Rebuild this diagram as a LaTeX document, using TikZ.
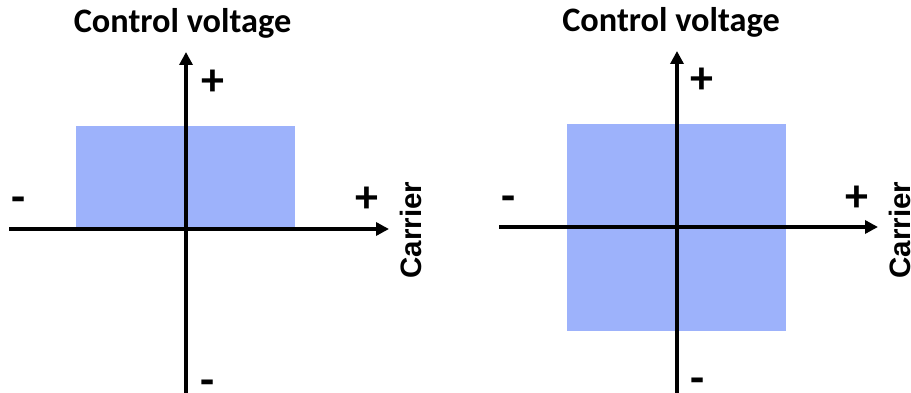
\documentclass[tikz,border=0pt]{standalone}
\usepackage{fontspec}
\setmainfont{Carlito}
\newfontfamily\carrierfont{Liberation Sans}
\usetikzlibrary{arrows.meta}
\definecolor{boxblue}{RGB}{157,178,251}
\tikzset{
  axis/.style={line width=4.3pt,-{Triangle[length=13pt,width=13pt]}},
  title/.style={font=\fontsize{34.3}{40}\selectfont\bfseries,inner sep=0pt},
  sign/.style={font=\fontsize{46}{50}\selectfont\bfseries,inner sep=0pt,text height=0.45em,text depth=0pt},
  carrier/.style={font=\carrierfont\fontsize{29.5}{34}\selectfont\bfseries,rotate=90,inner sep=0pt},
}
\begin{document}
\begin{tikzpicture}[x=1pt,y=-1pt]
\useasboundingbox (0,0) rectangle (911,393);
% left diagram
\fill[boxblue] (76,126) rectangle (295,229);
\coordinate (LxS) at (9,229);
\coordinate (LxE) at (389,229);
\coordinate (LyS) at (186,393);
\coordinate (LyE) at (186,52);
\draw[axis] (LxS) -- (LxE);
\draw[axis] (LyS) -- (LyE);
\node[title] (Lt) at (182.5,23) {Control voltage};
\node[sign] (Lp1) at (212.5,93) {+};
\node[sign] (Lm1) at (208,393.5) {-};
\node[sign] (Lm2) at (19,210.5) {-};
\node[sign] (Lp2) at (367,210.5) {+};
\node[carrier] (Lc) at (411,230) {Carrier};
% right diagram
\fill[boxblue] (567,124) rectangle (786,331);
\coordinate (RxS) at (499,227);
\coordinate (RxE) at (878,227);
\coordinate (RyS) at (677,393);
\coordinate (RyE) at (677,51);
\draw[axis] (RxS) -- (RxE);
\draw[axis] (RyS) -- (RyE);
\node[title] (Rt) at (671,22) {Control voltage};
\node[sign] (Rp1) at (702,91.5) {+};
\node[sign] (Rm1) at (698,391.5) {-};
\node[sign] (Rm2) at (509,209.5) {-};
\node[sign] (Rp2) at (857,209.5) {+};
\node[carrier] (Rc) at (900,230) {Carrier};
\end{tikzpicture}
\end{document}
